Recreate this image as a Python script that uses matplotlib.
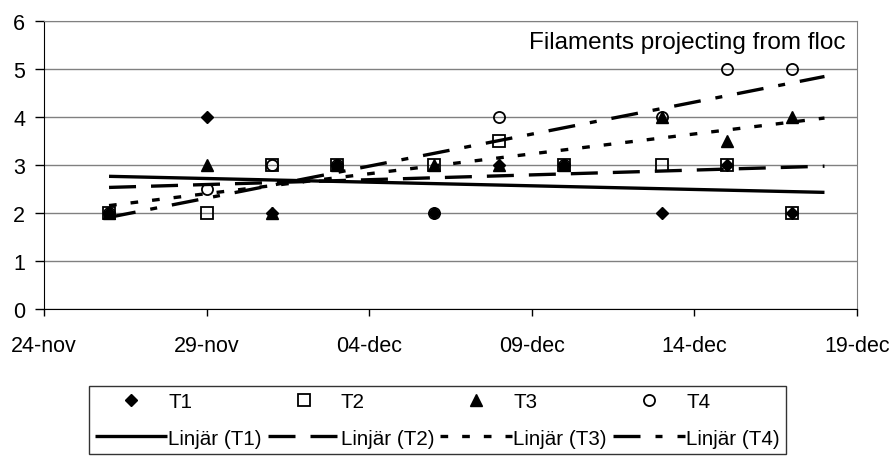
import matplotlib
matplotlib.use('Agg')
import matplotlib.pyplot as plt
import matplotlib.dates as mdates
import numpy as np
from datetime import datetime, timedelta

plt.rcParams['font.family'] = ['Liberation Sans', 'DejaVu Sans']

# sampling dates and the four series
dates = ['2008-11-26', '2008-11-29', '2008-12-01', '2008-12-03', '2008-12-06',
         '2008-12-08', '2008-12-10', '2008-12-13', '2008-12-15', '2008-12-17']
t1 = [2, 4, 2, 3, 2, 3, 3, 2, 3, 2]
t2 = [2, 2, 3, 3, 3, 3.5, 3, 3, 3, 2]
t3 = [2, 3, 2, 3, 3, 3, 3, 4, 3.5, 4]
t4 = [2, 2.5, 3, 3, 2, 4, 3, 4, 5, 5]
names = ['T1', 'T2', 'T3', 'T4']

tick_dates = ['2008-11-24', '2008-11-29', '2008-12-04', '2008-12-09', '2008-12-14', '2008-12-19']
tick_labels = ['24-nov', '29-nov', '04-dec', '09-dec', '14-dec', '19-dec']
title = 'Filaments projecting from floc'

x = mdates.date2num([datetime.strptime(d, '%Y-%m-%d') for d in dates])
xt = mdates.date2num([datetime.strptime(d, '%Y-%m-%d') for d in tick_dates])

fig = plt.figure(figsize=(8.95, 4.6), dpi=100)
ax = fig.add_axes([44/895, 1-310/460, (857-44)/895, (310-22)/460])

mstyle = [dict(marker='D', ms=6.5, mfc='black', mec='black', mew=1),
          dict(marker='s', ms=8, mfc='none', mec='black', mew=1.3),
          dict(marker='^', ms=9, mfc='black', mec='black', mew=1),
          dict(marker='o', ms=8, mfc='none', mec='black', mew=1.3)]
dashes = [None, [8.1, 4.5], [2.3, 4.2], [8.1, 4.5, 2.1, 4.5]]

handles = []
xfit = np.array([x[0], x[-1] + 1])
for name, ys, ms, ds in zip(names, [t1, t2, t3, t4], mstyle, dashes):
    h, = ax.plot(x, ys, ls='none', zorder=3, label=name, **ms)
    k, b = np.polyfit(x, ys, 1)
    l, = ax.plot(xfit, k*xfit + b, color='black', lw=2.4, zorder=4,
                 label='Linjär (%s)' % name, solid_capstyle='butt', dash_capstyle='butt')
    if ds:
        l.set_dashes(ds)
    handles += [h, l]

ax.set_xlim(xt[0], xt[-1])
ax.set_ylim(0, 6)
ax.set_xticks(xt)
ax.set_xticklabels(tick_labels)
ax.set_yticks(range(7))
ax.yaxis.grid(True, color='#808080', lw=1)
ax.set_axisbelow(True)
for s in ['top', 'right']:
    ax.spines[s].set_color('#808080')
for s in ['left', 'bottom']:
    ax.spines[s].set_color('black')
ax.tick_params(axis='x', length=5, width=1, pad=14, labelsize=15.5)
ax.tick_params(axis='y', length=6.5, width=1, pad=7, labelsize=15.5)

ax.text(0.986, 0.927, title, transform=ax.transAxes, ha='right', va='center', fontsize=17.5)

leg = fig.legend(handles=handles, ncol=4, loc='upper left', bbox_to_anchor=(89/895, 1-387/460),
                 borderaxespad=0, fontsize=14.8, handlelength=3.5, handletextpad=0.05,
                 columnspacing=0.3, borderpad=0.3, labelspacing=0.85, fancybox=False,
                 frameon=True, edgecolor='black')
leg.get_frame().set_linewidth(1)

fig.savefig('out.png', dpi=100)
